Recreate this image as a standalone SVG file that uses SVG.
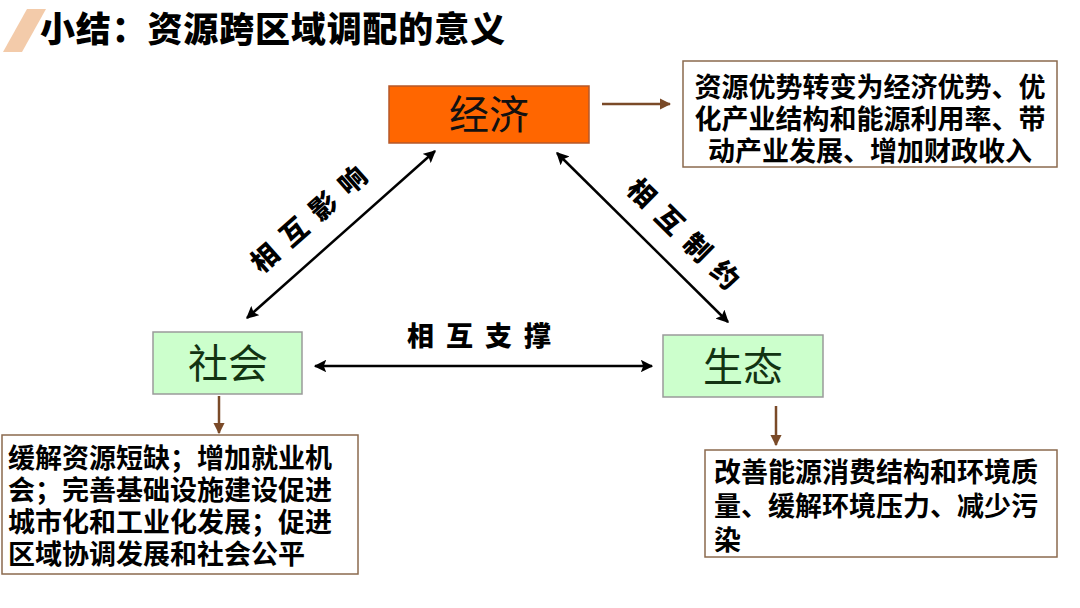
<svg xmlns="http://www.w3.org/2000/svg" width="1080" height="608" viewBox="0 0 1080 608">
<defs>
<style>
.title{font-family:"Noto Sans CJK SC","Noto Sans",sans-serif;font-weight:900;font-size:35px;fill:#000}
.node{font-family:"Noto Sans CJK SC",sans-serif;font-weight:400;font-size:40px;text-anchor:middle}
.desc{font-family:"Noto Sans CJK SC",sans-serif;font-weight:700;font-size:27px;fill:#000}
.rel{font-family:"Noto Sans CJK SC",sans-serif;font-weight:900;font-size:27px;fill:#000;text-anchor:middle;letter-spacing:12px}
.dbl{stroke:#000;stroke-width:2.5;fill:none;marker-start:url(#ah);marker-end:url(#ah)}
.brn{stroke:#7A4A28;stroke-width:2.5;fill:none;marker-end:url(#bh)}
.box{fill:#fff;stroke:#8B6A4E;stroke-width:1.5}
.green{fill:#CCFFCC;stroke:#9A9A9A;stroke-width:1.5}
</style>
<marker id="ah" viewBox="0 0 10 10" refX="9" refY="5" markerWidth="5" markerHeight="5" orient="auto-start-reverse" markerUnits="strokeWidth">
<path d="M0,0 L10,5 L0,10 L2,5 z" fill="#000"/>
</marker>
<marker id="bh" viewBox="0 0 10 10" refX="9" refY="5" markerWidth="4.5" markerHeight="4.5" orient="auto" markerUnits="strokeWidth">
<path d="M0,0 L10,5 L0,10 z" fill="#7A4A28"/>
</marker>
</defs>
<rect width="1080" height="608" fill="#fff"/>
<g id="title">
<polygon points="3,52 27,9 46,9 22,52" fill="#F3CBAA"/>
<text class="title" x="40" y="42" textLength="465" lengthAdjust="spacing">小结：资源跨区域调配的意义</text>
</g>
<g id="connectors">
<line class="dbl" x1="435" y1="151" x2="247" y2="318"/>
<line class="dbl" x1="557" y1="153" x2="728" y2="322"/>
<line class="dbl" x1="315" y1="366" x2="652" y2="366"/>
<line class="brn" x1="602" y1="104" x2="670" y2="104"/>
<line class="brn" x1="219" y1="396" x2="219" y2="433"/>
<line class="brn" x1="776" y1="406" x2="776" y2="445"/>
<text class="rel" transform="translate(313,215) rotate(-41.5)" y="10">相互影响</text>
<text class="rel" transform="translate(688,238) rotate(44.5)" y="10">相互制约</text>
<text class="rel" x="485" y="346">相互支撑</text>
</g>
<g id="economy">
<rect x="389" y="86" width="200" height="57" fill="#FF6600" stroke="#B5582A" stroke-width="1.5"/>
<text class="node" x="489" y="129" fill="#111">经济</text>
</g>
<g id="society">
<rect class="green" x="153" y="332" width="149" height="62"/>
<text class="node" x="228" y="378" fill="#123312" font-size="42">社会</text>
</g>
<g id="ecology">
<rect class="green" x="663" y="335" width="160" height="62"/>
<text class="node" x="743" y="381" fill="#123312" font-size="42">生态</text>
</g>
<g id="economy-effect">
<rect class="box" x="683" y="61" width="374" height="106"/>
<text class="desc" x="870" y="97" text-anchor="middle">资源优势转变为经济优势、优</text>
<text class="desc" x="870" y="129" text-anchor="middle">化产业结构和能源利用率、带</text>
<text class="desc" x="870" y="161" text-anchor="middle">动产业发展、增加财政收入</text>
</g>
<g id="society-effect">
<rect class="box" x="2" y="435" width="356" height="139"/>
<text class="desc" x="8" y="468">缓解资源短缺；增加就业机</text>
<text class="desc" x="8" y="500">会；完善基础设施建设促进</text>
<text class="desc" x="8" y="532">城市化和工业化发展；促进</text>
<text class="desc" x="8" y="564">区域协调发展和社会公平</text>
</g>
<g id="ecology-effect">
<rect class="box" x="705" y="450" width="352" height="107"/>
<text class="desc" x="714" y="482">改善能源消费结构和环境质</text>
<text class="desc" x="714" y="516">量、缓解环境压力、减少污</text>
<text class="desc" x="714" y="550">染</text>
</g>
</svg>
